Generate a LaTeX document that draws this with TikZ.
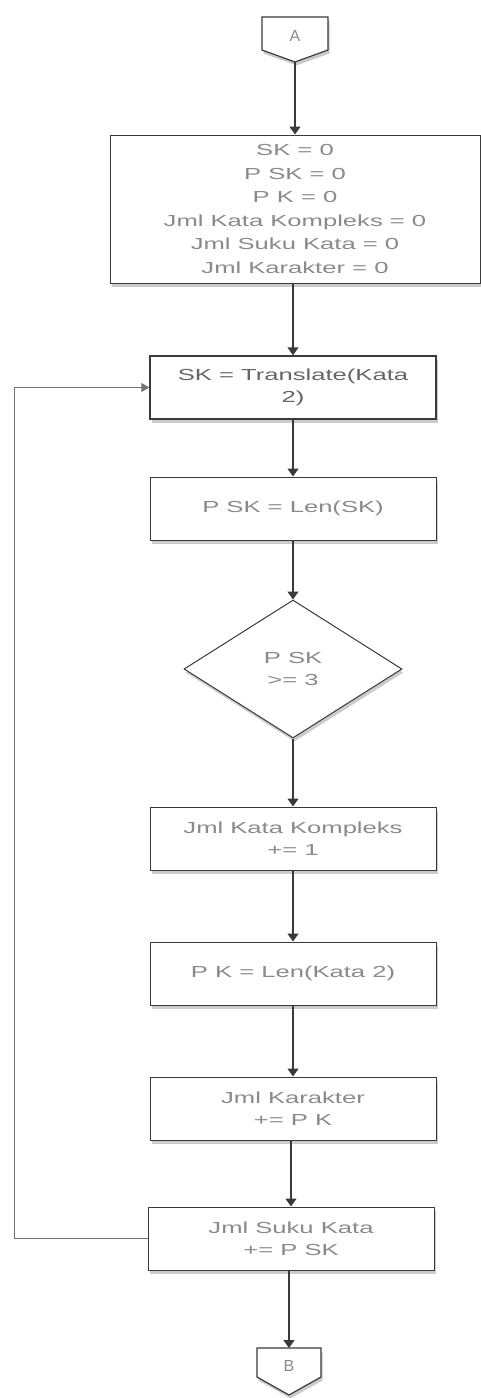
\documentclass[tikz,border=0pt]{standalone}
\usepackage{fontspec}
\usepackage{graphicx}
\setmainfont{Liberation Sans}
\usetikzlibrary{arrows.meta,shapes.geometric,shadows}
\newcommand\wt[1]{\scalebox{1.6}[1]{#1}}
\definecolor{txt}{HTML}{8A8A8A}
\definecolor{ln}{HTML}{3A3A3A}
\tikzset{
  shd/.style={drop shadow={shadow xshift=1.5pt, shadow yshift=-3.5pt, opacity=.45, fill=black!45}},
  procbox/.style={draw=ln, line width=1pt, fill=white, minimum width=286pt, minimum height=63pt,
    align=center, text=txt, font=\fontsize{16}{22}\selectfont, inner sep=2pt, shd},
  decbox/.style={diamond, draw=ln, line width=1pt, fill=white, minimum width=218pt, minimum height=138pt,
    align=center, text=txt, font=\fontsize{16}{22}\selectfont, inner sep=0pt, shd},
  conn/.style={draw=ln, line width=1.2pt, fill=white, shd},
  arr/.style={draw=ln, line width=1.5pt, -{Triangle[width=11pt,length=8pt]}},
  looparr/.style={draw=black!55, line width=1pt, -{Triangle[width=9pt,length=8pt]}},
  lbl/.style={text=txt, font=\fontsize{16}{22}\selectfont}
}
\begin{document}
\begin{tikzpicture}[x=1pt,y=-1pt]
\useasboundingbox (0,0) rectangle (480,1398);
% connector A
\path[conn] (262,17) -- (328,17) -- (328,50) -- (295,62) -- (262,50) -- cycle;
\node[lbl] (A) at (295,36) {A};
\coordinate (Aout) at (295,62);
% box 1
\node[procbox, minimum width=370pt, minimum height=148pt, font=\fontsize{16}{23.5}\selectfont] (b1) at (295,209)
  {\wt{SK = 0}\\\wt{P SK = 0}\\\wt{P K = 0}\\\wt{Jml Kata Kompleks = 0}\\\wt{Jml Suku Kata = 0}\\\wt{Jml Karakter = 0}};
\node[procbox, line width=1.4pt, text=black!60] (b2) at (293,387.5) {\wt{SK = Translate(Kata}\\\wt{2)}};
\node[procbox] (b3) at (293,508.5) {\wt{P SK = Len(SK)}};
\node[decbox] (d1) at (293,669) {\wt{P SK}\\\wt{>= 3}};
\node[procbox] (b4) at (293,838.5) {\wt{Jml Kata Kompleks}\\\wt{+= 1}};
\node[procbox] (b5) at (293,973.5) {\wt{P K = Len(Kata 2)}};
\node[procbox] (b6) at (293,1108.5) {\wt{Jml Karakter}\\\wt{+= P K}};
\node[procbox] (b7) at (291,1238.5) {\wt{Jml Suku Kata}\\\wt{+= P SK}};
% connector B
\path[conn] (257,1348) -- (321,1348) -- (321,1377) -- (289,1395) -- (257,1377) -- cycle;
\node[lbl] (B) at (289,1366) {B};
\coordinate (Bin) at (289,1348);
% arrows
\draw[arr] (Aout) -- (b1.north -| Aout);
\draw[arr] (b1.south -| b2.north) -- (b2.north);
\draw[arr] (b2) -- (b3);
\draw[arr] (b3) -- (d1);
\draw[arr] (d1) -- (b4);
\draw[arr] (b4) -- (b5);
\draw[arr] (b5) -- (b6);
\draw[arr] (b6.south -| b7.north) -- (b7.north);
\draw[arr] (b7.south -| Bin) -- (Bin);
% loop
\coordinate (lp) at (14,0);
\draw[looparr] (b7.west) -- (b7.west -| lp) -- (b2.west -| lp) -- (b2.west);
\end{tikzpicture}
\end{document}
